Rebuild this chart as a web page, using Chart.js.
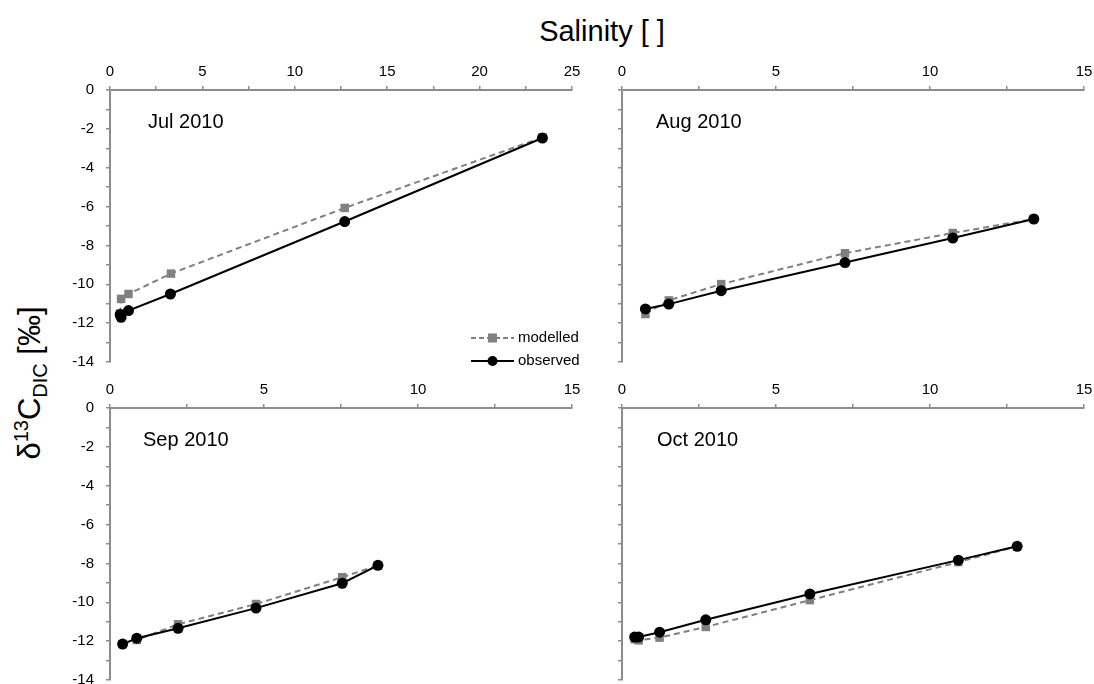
<!DOCTYPE html>
<html>
<head>
<meta charset="utf-8">
<script src="https://cdn.jsdelivr.net/npm/chart.js@4.4.1/dist/chart.umd.min.js"></script>
<style>
  body { margin: 0; background: #fff; width: 1094px; height: 684px; overflow: hidden; position: relative;
         font-family: "Liberation Sans", Arial, sans-serif; }
  canvas { position: absolute; }
  .month { position: absolute; font-size: 20px; color: #000; }
  #xtitle { position: absolute; left: 0; width: 1204px; top: 15px; text-align: center; font-size: 29px; }
  #ytitle { position: absolute; left: 31px; top: 383px; font-size: 31px; white-space: nowrap;
            transform: translate(-50%, -50%) rotate(-90deg); }
  #ytitle sup, #ytitle sub { font-size: 20px; }
</style>
</head>
<body>
<div id="xtitle">Salinity [ ]</div>
<div id="ytitle">δ<sup>13</sup>C<sub>DIC</sub> [‰]</div>

<canvas id="jul" width="532" height="325" style="left:55px; top:58px"></canvas>
<canvas id="aug" width="532" height="325" style="left:567px; top:58px"></canvas>
<canvas id="sep" width="532" height="325" style="left:55px; top:376px"></canvas>
<canvas id="oct" width="532" height="325" style="left:567px; top:376px"></canvas>

<div class="month" style="left:148px; top:110px">Jul 2010</div>
<div class="month" style="left:656px; top:110px">Aug 2010</div>
<div class="month" style="left:143px; top:428px">Sep 2010</div>
<div class="month" style="left:657px; top:428px">Oct 2010</div>

<script>
// salinity and δ13C-DIC per sampling month
const julSalMod = [0.55, 0.6, 1.0, 3.3, 12.7, 23.4];
const julMod    = [-11.5, -10.75, -10.5, -9.45, -6.07, -2.44];
const julSalObs = [0.55, 0.6, 1.0, 3.27, 12.7, 23.4];
const julObs    = [-11.55, -11.7, -11.35, -10.5, -6.77, -2.47];

const augSal = [0.76, 1.52, 3.22, 7.24, 10.74, 13.37];
const augMod = [-11.53, -10.83, -9.99, -8.4, -7.36, -6.64];
const augObs = [-11.27, -11.02, -10.33, -8.88, -7.62, -6.64];

const sepSal = [0.41, 0.87, 2.21, 4.74, 7.54, 8.7];
const sepMod = [-12.15, -11.94, -11.13, -10.09, -8.71, -8.1];
const sepObs = [-12.15, -11.85, -11.34, -10.3, -9.02, -8.1];

const octSal = [0.41, 0.54, 1.22, 2.72, 6.1, 10.92, 12.83];
const octMod = [-11.9, -11.96, -11.82, -11.27, -9.89, -7.93, -7.12];
const octObs = [-11.79, -11.79, -11.54, -10.9, -9.57, -7.83, -7.12];

const seriesNames = ["modelled", "observed"];

const AXIS = "#8c8c8c";
const MOD_COLOR = "#808080";
const OBS_COLOR = "#000000";
const FONT = { family: "'Liberation Sans', Arial, sans-serif", size: 15 };

function pts(xs, ys) {
  return xs.map((x, i) => ({ x: x, y: ys[i] }));
}

// legend with line + marker samples, drawn only in the first panel
const legendPlugin = {
  id: "lineLegend",
  afterDraw(chart, args, opts) {
    if (!opts.show) return;
    const ctx = chart.ctx;
    const a = chart.chartArea;
    const x0 = a.right - 101, x1 = a.right - 58;
    const rows = [a.bottom - 24, a.bottom - 1];
    ctx.save();
    ctx.font = "15px 'Liberation Sans', Arial, sans-serif";
    ctx.textBaseline = "middle";
    rows.forEach((y, i) => {
      const col = i === 0 ? MOD_COLOR : OBS_COLOR;
      ctx.strokeStyle = col;
      ctx.fillStyle = col;
      ctx.lineWidth = 2;
      ctx.setLineDash(i === 0 ? [5, 3] : []);
      ctx.beginPath();
      ctx.moveTo(x0, y);
      ctx.lineTo(x1, y);
      ctx.stroke();
      ctx.setLineDash([]);
      const cx = (x0 + x1) / 2;
      if (i === 0) {
        ctx.fillRect(cx - 4.5, y - 4.5, 9, 9);
      } else {
        ctx.beginPath();
        ctx.arc(cx, y, 5, 0, Math.PI * 2);
        ctx.fill();
      }
      ctx.fillStyle = "#000";
      ctx.fillText(seriesNames[i], x1 + 4, y);
    });
    ctx.restore();
  },
};

function makePanel(id, xMax, modData, obsData, showYLabels, showLegend) {
  const ctx = document.getElementById(id).getContext("2d");
  return new Chart(ctx, {
    type: "scatter",
    data: {
      datasets: [
        {
          label: seriesNames[0],
          data: modData,
          order: 1,
          showLine: true,
          borderColor: MOD_COLOR,
          backgroundColor: MOD_COLOR,
          borderWidth: 2,
          borderDash: [6, 4],
          pointStyle: "rect",
          pointRadius: 6,
          pointBorderWidth: 0,
          clip: false,
        },
        {
          label: seriesNames[1],
          data: obsData,
          order: 0,
          showLine: true,
          borderColor: OBS_COLOR,
          backgroundColor: OBS_COLOR,
          borderWidth: 2,
          pointStyle: "circle",
          pointRadius: 5.5,
          pointBorderWidth: 0,
          clip: false,
        },
      ],
    },
    options: {
      responsive: false,
      animation: false,
      layout: { padding: { left: 0, right: 15, top: 0, bottom: 14 } },
      plugins: {
        legend: { display: false },
        tooltip: { enabled: false },
        lineLegend: { show: showLegend },
      },
      scales: {
        x: {
          type: "linear",
          position: "top",
          min: 0,
          max: xMax,
          afterFit(scale) { scale.height = 32; },
          ticks: {
            stepSize: 2.5,
            autoSkip: false,
            maxRotation: 0,
            padding: 5,
            color: "#000",
            font: FONT,
            callback: (v) => (v % 5 === 0 ? String(v) : ""),
          },
          grid: { drawOnChartArea: false, tickLength: 4, color: AXIS, lineWidth: 1.5 },
          border: { color: AXIS, width: 2 },
        },
        y: {
          type: "linear",
          min: -14,
          max: 0,
          afterFit(scale) { scale.width = 55; },
          ticks: {
            stepSize: 1,
            autoSkip: false,
            padding: 12,
            color: "#000",
            font: FONT,
            callback: (v) => (showYLabels && v % 2 === 0 ? String(v) : ""),
          },
          grid: { drawOnChartArea: false, tickLength: 4, color: AXIS, lineWidth: 1.5 },
          border: { color: AXIS, width: 2 },
        },
      },
    },
    plugins: [legendPlugin],
  });
}

makePanel("jul", 25, pts(julSalMod, julMod), pts(julSalObs, julObs), true, true);
makePanel("aug", 15, pts(augSal, augMod), pts(augSal, augObs), false, false);
makePanel("sep", 15, pts(sepSal, sepMod), pts(sepSal, sepObs), true, false);
makePanel("oct", 15, pts(octSal, octMod), pts(octSal, octObs), false, false);
</script>
</body>
</html>
